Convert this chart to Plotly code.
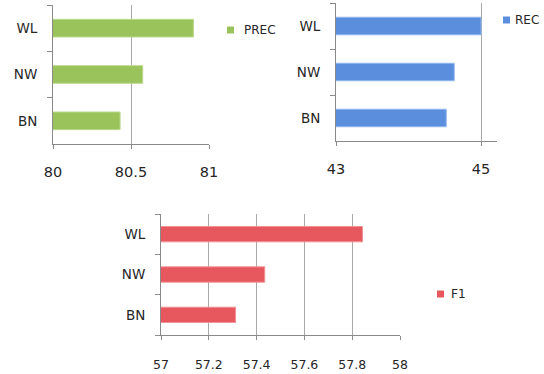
import plotly.graph_objects as go

# Categories (bottom to top) and scores per metric
categories = ["BN", "NW", "WL"]
prec_values = [80.43, 80.575, 80.9]
rec_values = [44.52, 44.63, 45.0]
f1_values = [57.312, 57.434, 57.843]

prec_ticks = [80, 80.5, 81]
rec_ticks = [43, 45]
f1_ticks = [57, 57.2, 57.4, 57.6, 57.8, 58]

GREEN = "#9bc35b"
BLUE = "#5b8fdd"
RED = "#e6585e"
TEXT = "#262626"
FONT = "DejaVu Sans"

fig = go.Figure()

panels = [
    ("PREC", prec_values, GREEN, "#b9d98a", "x", "y"),
    ("REC", rec_values, BLUE, "#8fb5ec", "x2", "y2"),
    ("F1", f1_values, RED, "#f09296", "x3", "y3"),
]
for name, vals, col, edge, xa, ya in panels:
    fig.add_trace(go.Bar(
        x=vals, y=categories, orientation="h", name=name,
        marker=dict(color=col, line=dict(color=edge, width=1)),
        xaxis=xa, yaxis=ya, showlegend=False,
    ))


def xaxis(domain, rng, ticks, anchor, size, standoff):
    return dict(
        domain=domain, range=rng, tickvals=ticks,
        ticktext=[f"{t:g}" for t in ticks], anchor=anchor,
        showgrid=True, gridcolor="#a8a8a8", gridwidth=1,
        showline=True, linecolor="#8a8a8a", linewidth=1,
        ticks="outside", ticklen=4, tickcolor="#8a8a8a",
        ticklabelstandoff=standoff, zeroline=False, automargin=False,
        tickfont=dict(family=FONT, size=size, color=TEXT),
        fixedrange=True,
    )


def yaxis(domain, anchor):
    return dict(
        domain=domain, anchor=anchor, type="category",
        categoryorder="array", categoryarray=categories,
        showline=True, linecolor="#8a8a8a", linewidth=1,
        ticks="outside", ticklen=5, tickcolor="#8a8a8a",
        tickson="boundaries", ticklabelstandoff=12,
        showgrid=False, zeroline=False, automargin=False,
        tickfont=dict(family=FONT, size=13.5, color=TEXT),
        fixedrange=True,
    )


W, H = 544, 374


def px_x(a, b):
    return [a / W, b / W]


def px_y(top, bottom):
    return [1 - bottom / H, 1 - top / H]


fig.update_layout(
    template="none",
    width=W, height=H,
    margin=dict(l=0, r=0, t=0, b=0, autoexpand=False),
    paper_bgcolor="white", plot_bgcolor="white",
    bargap=0.62,
    xaxis=xaxis(px_x(53, 209), [80, 81], prec_ticks, "y", 14.5, 11),
    yaxis=yaxis(px_y(5, 144), "x"),
    xaxis2=xaxis(px_x(336, 497), [43, 45.22], rec_ticks, "y2", 14.5, 11),
    yaxis2=yaxis(px_y(3, 141), "x2"),
    xaxis3=xaxis(px_x(161, 400), [57, 58], f1_ticks, "y3", 12.5, 14),
    yaxis3=yaxis(px_y(214, 335), "x3"),
)

# Legend keys: small square swatch plus series name beside each panel
legend_items = [
    ("PREC", GREEN, 227, 30, 15),
    ("REC", BLUE, 503, 20, 10),
    ("F1", RED, 437, 294, 12),
]
for name, col, x0, yc, gap in legend_items:
    fig.add_shape(
        type="rect", xref="paper", yref="paper",
        x0=x0 / W, x1=(x0 + 7) / W,
        y0=1 - (yc + 3.5) / H, y1=1 - (yc - 3.5) / H,
        fillcolor=col, line=dict(width=0),
    )
    fig.add_annotation(
        text=name, xref="paper", yref="paper",
        x=(x0 + gap) / W, y=1 - yc / H,
        xanchor="left", yanchor="middle", showarrow=False,
        font=dict(family=FONT, size=12, color=TEXT),
    )

fig.write_html("out.html")
